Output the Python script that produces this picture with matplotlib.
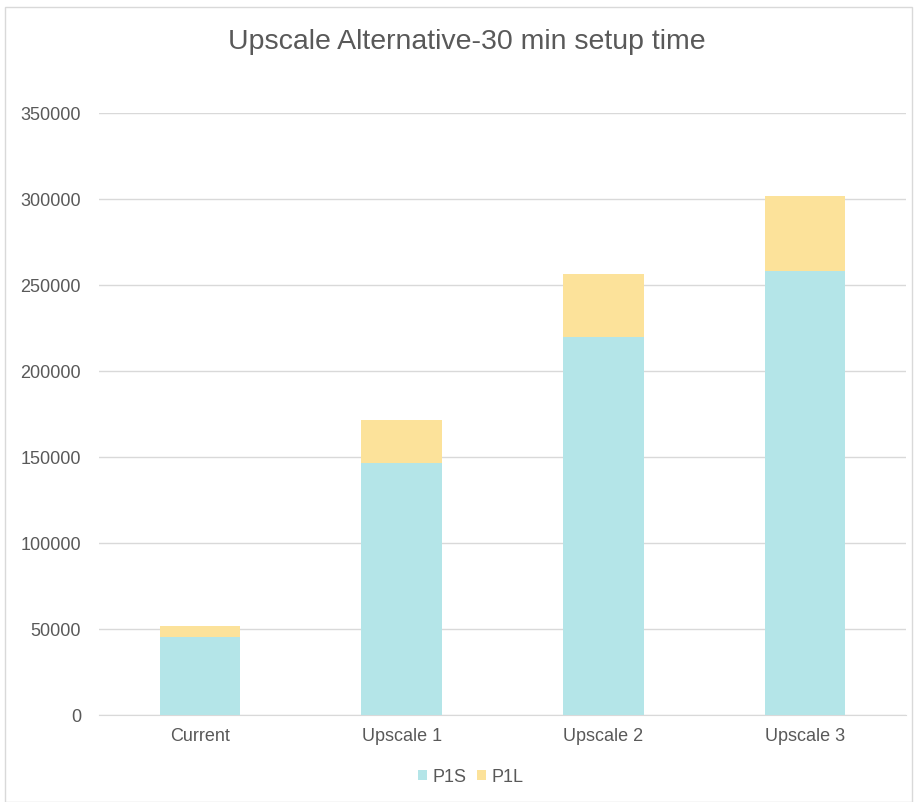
import matplotlib.pyplot as plt
from matplotlib.patches import Rectangle

# Datos
categorias = ['Current', 'Upscale 1', 'Upscale 2', 'Upscale 3']
p1s = [45500, 146500, 219500, 258000]
p1l = [6000, 25000, 37000, 43700]

color_p1s = '#B4E5E8'
color_p1l = '#FCE29A'
gris = '#595959'

plt.rcParams['font.family'] = ['Liberation Sans', 'DejaVu Sans']

fig = plt.figure(figsize=(9.15, 8.03), dpi=100)
ax = fig.add_axes([99 / 915, 87 / 803, 807 / 915, 602 / 803])

x = range(len(categorias))
ax.bar(x, p1s, width=0.4, color=color_p1s, label='P1S', zorder=3)
ax.bar(x, p1l, width=0.4, bottom=p1s, color=color_p1l, label='P1L', zorder=3)

ax.set_xlim(-0.5, 3.5)
ax.set_ylim(0, 350000)
ax.set_yticks(range(0, 350001, 50000))
ax.set_xticks(list(x))
ax.set_xticklabels(categorias)
ax.tick_params(axis='both', length=0, labelsize=13, colors=gris)
ax.tick_params(axis='y', pad=13)
ax.tick_params(axis='x', pad=9)
ax.grid(axis='y', color='#D9D9D9', linewidth=1, zorder=0)
for lado in ['top', 'right', 'left']:
    ax.spines[lado].set_visible(False)
ax.spines['bottom'].set_color('#D9D9D9')

fig.text(467 / 915, 1 - 42 / 803, 'Upscale Alternative-30 min setup time',
         ha='center', va='center', fontsize=20.5, color=gris)

fig.legend(loc='center', bbox_to_anchor=(471 / 915, 1 - 778 / 803), ncol=2,
           frameon=False, fontsize=13, labelcolor=gris,
           handlelength=0.5, handleheight=0.5, handletextpad=0.3,
           columnspacing=0.6)

# Borde del gráfico
fig.patches.append(Rectangle((5 / 915, 0), 907 / 915, 795 / 803,
                             transform=fig.transFigure, fill=False,
                             edgecolor='#D9D9D9', linewidth=1))

fig.savefig('out.png', dpi=100)
